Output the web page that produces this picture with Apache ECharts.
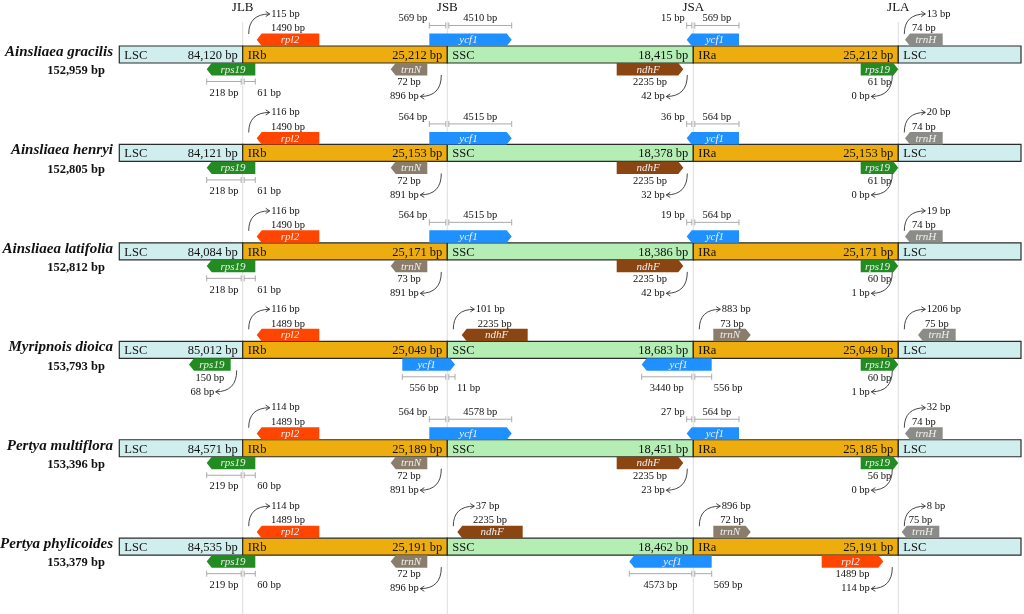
<!DOCTYPE html>
<html>
<head>
<meta charset="utf-8">
<script src="https://cdn.jsdelivr.net/npm/echarts@6/dist/echarts.min.js"></script>
<style>
  html, body { margin: 0; padding: 0; background: #fff; }
  #main { width: 1024px; height: 614px; }
</style>
</head>
<body>
<div id="main"></div>
<script>
// plastome sizes per species
const species = ['Ainsliaea gracilis', 'Ainsliaea henryi', 'Ainsliaea latifolia', 'Myripnois dioica', 'Pertya multiflora', 'Pertya phylicoides'];
const genomeSize = [152959, 152805, 152812, 153793, 153396, 153379];
const lscSize = [84120, 84121, 84084, 85012, 84571, 84535];
const irbSize = [25212, 25153, 25171, 25049, 25189, 25191];
const sscSize = [18415, 18378, 18386, 18683, 18451, 18462];
const iraSize = [25212, 25153, 25171, 25049, 25185, 25191];
const regionNames = ['LSC', 'IRb', 'SSC', 'IRa', 'LSC'];
const junctions = ['JLB', 'JSB', 'JSA', 'JLA'];

// border genes: [row, gene, slot, first bp value, second bp value]
const genes = [
  [0, 'rpl2', 'rpl2_IRb', 1490, 115],
  [0, 'rps19', 'rps19_JLB', 218, 61],
  [0, 'ycf1', 'ycf1_JSB_up', 569, 4510],
  [0, 'trnN', 'trnN_IRb', 72, 896],
  [0, 'ndhF', 'ndhF_SSC_dn', 2235, 42],
  [0, 'ycf1', 'ycf1_JSA_up', 15, 569],
  [0, 'rps19', 'rps19_IRa', 61, 0],
  [0, 'trnH', 'trnH_LSC', 74, 13],

  [1, 'rpl2', 'rpl2_IRb', 1490, 116],
  [1, 'rps19', 'rps19_JLB', 218, 61],
  [1, 'ycf1', 'ycf1_JSB_up', 564, 4515],
  [1, 'trnN', 'trnN_IRb', 72, 891],
  [1, 'ndhF', 'ndhF_SSC_dn', 2235, 32],
  [1, 'ycf1', 'ycf1_JSA_up', 36, 564],
  [1, 'rps19', 'rps19_IRa', 61, 0],
  [1, 'trnH', 'trnH_LSC', 74, 20],

  [2, 'rpl2', 'rpl2_IRb', 1490, 116],
  [2, 'rps19', 'rps19_JLB', 218, 61],
  [2, 'ycf1', 'ycf1_JSB_up', 564, 4515],
  [2, 'trnN', 'trnN_IRb', 73, 891],
  [2, 'ndhF', 'ndhF_SSC_dn', 2235, 42],
  [2, 'ycf1', 'ycf1_JSA_up', 19, 564],
  [2, 'rps19', 'rps19_IRa', 60, 1],
  [2, 'trnH', 'trnH_LSC', 74, 19],

  [3, 'rpl2', 'rpl2_IRb', 1489, 116],
  [3, 'rps19', 'rps19_LSC', 150, 68],
  [3, 'ycf1', 'ycf1_JSB_dn', 556, 11],
  [3, 'ndhF', 'ndhF_SSC_a', 2235, 101],
  [3, 'ycf1', 'ycf1_JSA_a', 3440, 556],
  [3, 'trnN', 'trnN_IRa', 73, 883],
  [3, 'rps19', 'rps19_IRa', 60, 1],
  [3, 'trnH', 'trnH_LSC_b', 75, 1206],

  [4, 'rpl2', 'rpl2_IRb', 1489, 114],
  [4, 'rps19', 'rps19_JLB', 219, 60],
  [4, 'ycf1', 'ycf1_JSB_up', 564, 4578],
  [4, 'trnN', 'trnN_IRb', 72, 891],
  [4, 'ndhF', 'ndhF_SSC_dn', 2235, 23],
  [4, 'ycf1', 'ycf1_JSA_up', 27, 564],
  [4, 'rps19', 'rps19_IRa', 56, 0],
  [4, 'trnH', 'trnH_LSC', 74, 32],

  [5, 'rpl2', 'rpl2_IRb', 1489, 114],
  [5, 'rps19', 'rps19_JLB', 219, 60],
  [5, 'trnN', 'trnN_IRb', 72, 896],
  [5, 'ndhF', 'ndhF_SSC_b', 2235, 37],
  [5, 'ycf1', 'ycf1_JSA_b', 4573, 569],
  [5, 'trnN', 'trnN_IRa', 72, 896],
  [5, 'rpl2', 'rpl2_IRa', 1489, 114],
  [5, 'trnH', 'trnH_LSC_c', 75, 8]
];

// schematic layout (drawing units along x), not to scale
const bounds = [119.3, 242.7, 447.3, 693.3, 898.3, 1021];
const slots = {
  rpl2_IRb:    { x: [256.7, 319.3], j: 0, side: 'up',   dir: 'L', kind: 'curve' },
  rps19_JLB:   { x: [206.7, 255.3], j: 0, side: 'down', dir: 'L', kind: 'dim' },
  rps19_LSC:   { x: [189, 230.7],   j: 0, side: 'down', dir: 'L', kind: 'curve' },
  ycf1_JSB_up: { x: [429.3, 511.7], j: 1, side: 'up',   dir: 'R', kind: 'dim' },
  ycf1_JSB_dn: { x: [402.3, 455],   j: 1, side: 'down', dir: 'R', kind: 'dim' },
  trnN_IRb:    { x: [390.7, 427.3], j: 1, side: 'down', dir: 'L', kind: 'curve' },
  ndhF_SSC_a:  { x: [461.7, 527.7], j: 1, side: 'up',   dir: 'L', kind: 'curve' },
  ndhF_SSC_b:  { x: [457.3, 522.7], j: 1, side: 'up',   dir: 'L', kind: 'curve' },
  ndhF_SSC_dn: { x: [616.7, 683.3], j: 2, side: 'down', dir: 'R', kind: 'curve' },
  ycf1_JSA_up: { x: [686.7, 739],   j: 2, side: 'up',   dir: 'L', kind: 'dim' },
  ycf1_JSA_a:  { x: [641.7, 711.7], j: 2, side: 'down', dir: 'L', kind: 'dim' },
  ycf1_JSA_b:  { x: [629.3, 711.7], j: 2, side: 'down', dir: 'L', kind: 'dim' },
  trnN_IRa:    { x: [713.3, 750.7], j: 2, side: 'up',   dir: 'R', kind: 'curve' },
  rps19_IRa:   { x: [860.7, 898.3], j: 3, side: 'down', dir: 'R', kind: 'curve' },
  rpl2_IRa:    { x: [821.7, 883.3], j: 3, side: 'down', dir: 'R', kind: 'curve' },
  trnH_LSC:    { x: [905, 942.7],   j: 3, side: 'up',   dir: 'L', kind: 'curve' },
  trnH_LSC_b:  { x: [918, 955.7],   j: 3, side: 'up',   dir: 'L', kind: 'curve' },
  trnH_LSC_c:  { x: [901.7, 939.3], j: 3, side: 'up',   dir: 'L', kind: 'curve' }
};

const regionColor = ['#D1EEEE', '#EEAD0E', '#B4EEB4', '#EEAD0E', '#D1EEEE'];
const geneColor = { rpl2: '#FF4500', rps19: '#228B22', ycf1: '#1E90FF', trnN: '#8B7D6B', ndhF: '#8B4513', trnH: '#8B8B87' };
const SERIF = '"Liberation Serif", "Times New Roman", serif';
const BAR_H = 17, GENE_H = 12.5, TIP = 5;

const regionSizes = [lscSize, irbSize, sscSize, iraSize];
const fmt = v => v.toLocaleString('en-US');

function txt(x, y, text, o) {
  o = o || {};
  return {
    type: 'text',
    style: {
      x: x, y: y, text: text,
      fill: o.fill || '#111',
      fontFamily: SERIF,
      fontSize: o.size || 10.5,
      fontStyle: o.italic ? 'italic' : 'normal',
      fontWeight: o.bold ? 'bold' : 'normal',
      align: o.align || 'center',
      verticalAlign: 'middle'
    }
  };
}

function renderJunction(params, api) {
  const i = params.dataIndex;
  const p = api.coord([bounds[i + 1], 0]);
  return {
    type: 'group',
    children: [
      { type: 'line', shape: { x1: p[0], y1: p[1] - 32.5, x2: p[0], y2: api.getHeight() },
        style: { stroke: '#d9d9d9', lineWidth: 0.9 } },
      txt(p[0], p[1] - 46.5, junctions[i], { size: 13 })
    ]
  };
}

function renderRegion(params, api) {
  const row = api.value(1), seg = api.value(3);
  const a = api.coord([api.value(0), row]);
  const b = api.coord([api.value(2), row]);
  const children = [
    { type: 'rect', shape: { x: a[0], y: a[1] - BAR_H / 2, width: b[0] - a[0], height: BAR_H },
      style: { fill: regionColor[seg], stroke: '#2b2b2b', lineWidth: 1.2 } },
    txt(a[0] + 5, a[1] + 1, regionNames[seg], { size: 12.5, align: 'left' })
  ];
  if (seg < 4) {
    children.push(txt(b[0] - 5, a[1] + 1, fmt(regionSizes[seg][row]) + ' bp', { size: 12.5, align: 'right' }));
  }
  return { type: 'group', children: children };
}

function renderSpecies(params, api) {
  const row = params.dataIndex;
  const p = api.coord([113, row]);
  return {
    type: 'group',
    children: [
      txt(p[0], p[1] - 2.5, species[row], { size: 15, bold: true, italic: true, align: 'right' }),
      txt(76, p[1] + 16.5, fmt(genomeSize[row]) + ' bp', { size: 12.5, bold: true })
    ]
  };
}

function arrowCurve(sx, sy, ex, ey) {
  const d = ex > sx ? -1 : 1;
  return [
    { type: 'bezierCurve', shape: { x1: sx, y1: sy, x2: ex, y2: ey, cpx1: sx, cpy1: ey },
      style: { stroke: '#333', fill: null, lineWidth: 0.9 } },
    { type: 'polyline', shape: { points: [[ex + d * 4, ey - 2.6], [ex, ey], [ex + d * 4, ey + 2.6]] },
      style: { stroke: '#333', fill: null, lineWidth: 0.9 } }
  ];
}

function dimSeg(x0, x1, y) {
  return [
    { type: 'line', shape: { x1: x0, y1: y, x2: x1, y2: y }, style: { stroke: '#aaa', lineWidth: 1 } },
    { type: 'line', shape: { x1: x0, y1: y - 3, x2: x0, y2: y + 3 }, style: { stroke: '#aaa', lineWidth: 1 } },
    { type: 'line', shape: { x1: x1, y1: y - 3, x2: x1, y2: y + 3 }, style: { stroke: '#aaa', lineWidth: 1 } }
  ];
}

function renderGene(params, api) {
  const g = genes[params.dataIndex];
  const s = slots[g[2]];
  const row = g[0];
  const a = api.coord([s.x[0], row]), b = api.coord([s.x[1], row]);
  const jx = api.coord([bounds[s.j + 1], row])[0];
  const cy = a[1], top = cy - BAR_H / 2, bot = cy + BAR_H / 2;
  const up = s.side === 'up';
  const y0 = up ? top - GENE_H : bot, y1 = up ? top : bot + GENE_H, ym = (y0 + y1) / 2;
  const x0 = a[0], x1 = b[0], xm = (x0 + x1) / 2;
  const pts = s.dir === 'L'
    ? [[x0, ym], [x0 + TIP, y0], [x1, y0], [x1, y1], [x0 + TIP, y1]]
    : [[x0, y0], [x1 - TIP, y0], [x1, ym], [x1 - TIP, y1], [x0, y1]];
  let children = [
    { type: 'polygon', shape: { points: pts }, style: { fill: geneColor[g[1]] } },
    txt(xm + (s.dir === 'L' ? 2 : -2), ym + 0.5, g[1], { size: 11, italic: true, fill: '#f0f0f0' })
  ];
  if (s.kind === 'curve') {
    if (up) {
      const sx = jx + 6, sy = top - 12, ex = sx + 21, ey = top - 32;
      children.push(txt(xm, top - 17.5, g[3] + ' bp'));
      children = children.concat(arrowCurve(sx, sy, ex, ey));
      children.push(txt(ex + 1.5, ey, g[4] + ' bp', { align: 'left' }));
    } else {
      const sx = jx - 6, sy = bot + 12, ex = sx - 21, ey = bot + 33.5;
      children.push(txt(xm, bot + 19.5, g[3] + ' bp'));
      children = children.concat(arrowCurve(sx, sy, ex, ey));
      children.push(txt(ex - 1.5, ey, g[4] + ' bp', { align: 'right' }));
    }
  } else {
    const ly = up ? top - 20.5 : bot + 18.5;
    const ty = up ? top - 27.5 : bot + 30;
    const segs = [[x0, jx - 1.5], [jx + 1.5, x1]];
    segs.forEach((sg, k) => {
      children = children.concat(dimSeg(sg[0], sg[1], ly));
      const label = g[3 + k] + ' bp';
      if (sg[1] - sg[0] < 25) {
        children.push(k === 0 ? txt(sg[0] - 2, ty, label, { align: 'right' })
                              : txt(sg[1] + 2, ty, label, { align: 'left' }));
      } else {
        children.push(txt((sg[0] + sg[1]) / 2, ty, label));
      }
    });
  }
  return { type: 'group', children: children };
}

const regionData = [];
species.forEach((sp, row) => {
  for (let seg = 0; seg < 5; seg++) regionData.push([bounds[seg], row, bounds[seg + 1], seg]);
});

const chart = echarts.init(document.getElementById('main'), null, { renderer: 'canvas' });
chart.setOption({
  animation: false,
  backgroundColor: '#fff',
  grid: { left: 0, right: 0, top: 0, bottom: 0 },
  xAxis: { type: 'value', min: 0, max: 1024, show: false },
  yAxis: { type: 'value', min: -0.5536, max: 5.684, inverse: true, show: false },
  series: [
    { type: 'custom', silent: true, z: 1, renderItem: renderJunction,
      data: junctions.map((j, i) => [bounds[i + 1], 0]), encode: { x: 0, y: 1 } },
    { type: 'custom', silent: true, z: 2, renderItem: renderRegion,
      data: regionData, encode: { x: [0, 2], y: 1 } },
    { type: 'custom', silent: true, z: 3, renderItem: renderSpecies,
      data: species.map((s, i) => [113, i]), encode: { x: 0, y: 1 } },
    { type: 'custom', silent: true, z: 4, renderItem: renderGene,
      data: genes.map(g => [slots[g[2]].x[0], g[0]]), encode: { x: 0, y: 1 } }
  ]
});
</script>
</body>
</html>
